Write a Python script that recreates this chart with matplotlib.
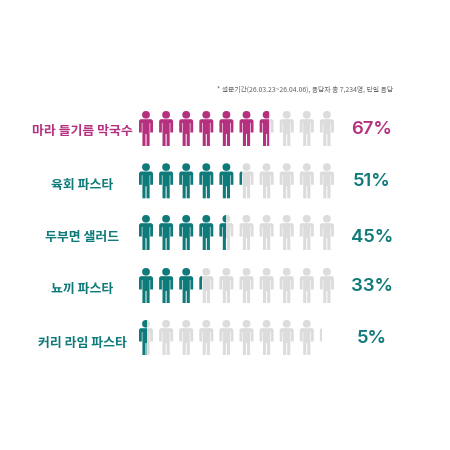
import matplotlib
matplotlib.use("Agg")
import matplotlib.pyplot as plt
from matplotlib.path import Path
from matplotlib.patches import PathPatch, Rectangle
from matplotlib.transforms import Affine2D

plt.rcParams['font.family'] = ['Noto Sans CJK KR', 'DejaVu Sans']

labels = ["마라 들기름 막국수", "육회 파스타", "두부면 샐러드", "뇨끼 파스타", "커리 라임 파스타"]
pct = [67, 51, 45, 33, 5]
pct_text = ["67%", "51%", "45%", "33%", "5%"]
# how far colour and grey reach, in icon columns
filled = [6.45, 5.13, 4.35, 3.15, 0.4]
grey_end = [10, 10, 10, 10, 9.1]
note = "* 설문기간(26.03.23~26.04.06), 응답자 총 7,234명, 단일 응답"

PINK = "#b5307f"
TEAL = "#0f7a7a"
GREY = "#dcdcdc"
colors = [PINK, TEAL, TEAL, TEAL, TEAL]

row_top = [111, 163.3, 215, 268, 320]
label_y = [131, 184.5, 237, 289.5, 343.5]
pct_y = [129.5, 181.5, 237, 286.5, 338.5]
x0 = 139
pitch = 20.1


def person():
    # icon drawn in pixels: 14 wide, 35 tall, top left at 0,0
    M, L, C, Z = Path.MOVETO, Path.LINETO, Path.CURVE3, Path.CLOSEPOLY
    k = 3.9
    head = [(7, 0), (7 + k, 0), (7 + k, 3.8), (7 + k, 7.6), (7, 7.6),
            (7 - k, 7.6), (7 - k, 3.8), (7 - k, 0), (7, 0), (7, 0)]
    head_c = [M, C, C, C, C, C, C, C, C, Z]
    body = [(2.2, 8.2), (0, 8.2), (0, 10.5), (0, 21.5), (2.8, 21.5), (2.8, 12),
            (3.4, 12), (3.4, 35), (6.5, 35), (6.5, 23), (7.5, 23), (7.5, 35),
            (10.6, 35), (10.6, 12), (11.2, 12), (11.2, 21.5), (14, 21.5),
            (14, 10.5), (14, 8.2), (11.8, 8.2), (2.2, 8.2)]
    body_c = [M, C, C, L, L, L, L, L, L, L, L, L, L, L, L, L, L, L, C, C, Z]
    return Path(head + body, head_c + body_c)


fig = plt.figure(figsize=(4.5, 4.5), dpi=100)
ax = fig.add_axes([0, 0, 1, 1])
ax.set_xlim(0, 450)
ax.set_ylim(450, 0)
ax.axis("off")

icon = person()
for r in range(len(labels)):
    stop = x0 + filled[r] * pitch
    end = x0 + grey_end[r] * pitch
    for i in range(10):
        tr = Affine2D().translate(x0 + i * pitch, row_top[r]) + ax.transData
        for color, a, b in [(GREY, stop, end), (colors[r], 0, stop)]:
            p = PathPatch(icon, fc=color, ec="none", transform=tr)
            ax.add_patch(p)
            clip = Rectangle((a, row_top[r] - 2), b - a, 40, transform=ax.transData)
            p.set_clip_path(clip)
    ax.text(82.5, label_y[r], labels[r], color=colors[r], fontsize=9.3, weight="bold",
            ha="center", va="center")
    ax.text(372, pct_y[r], pct_text[r], color=colors[r], fontsize=13.3, weight="semibold",
            family=["Inter", "DejaVu Sans"], ha="center", va="center")

ax.text(393, 89.5, note, color="#666666", fontsize=4.95, ha="right", va="center")

fig.savefig("out.png", dpi=100, facecolor="white")
